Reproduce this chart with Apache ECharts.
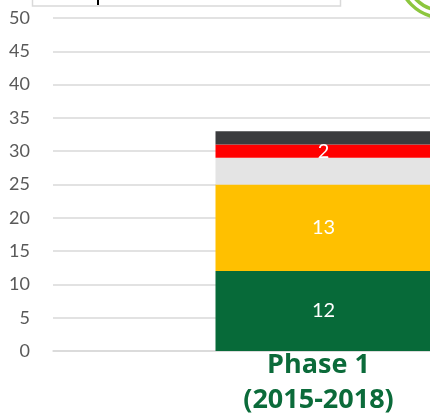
<!DOCTYPE html>
<html>
<head>
<meta charset="utf-8">
<script src="https://cdn.jsdelivr.net/npm/echarts@6/dist/echarts.min.js"></script>
<style>
  html, body { margin: 0; padding: 0; background: #ffffff; }
  #chart { width: 430px; height: 416px; }
</style>
</head>
<body>
<div id="chart"></div>
<script>
// Category and stacked segment values (bottom to top)
const categories = ['Phase 1\n(2015-2018)'];
const greenValues = [12];
const yellowValues = [13];
const greyValues = [4];
const redValues = [2];
const darkValues = [2];

const yMin = 0, yMax = 50, yStep = 5;

const chart = echarts.init(document.getElementById('chart'), null, { renderer: 'canvas' });

function segment(name, data, color, showLabel) {
  return {
    name: name,
    type: 'bar',
    stack: 'total',
    data: data,
    barWidth: 216,
    itemStyle: { color: color },
    label: {
      show: showLabel,
      position: 'inside',
      color: '#ffffff',
      fontFamily: 'Lato',
      fontSize: 20
    },
    emphasis: { disabled: true }
  };
}

chart.setOption({
  animation: false,
  grid: {
    left: 53, right: -164, top: 18, bottom: 65,
    containLabel: false,
    outerBoundsMode: 'none'
  },
  xAxis: {
    type: 'category',
    data: categories,
    axisLine: { show: true, lineStyle: { color: '#d9d9d9', width: 1.5 } },
    axisTick: { show: false },
    axisLabel: {
      color: '#0b6b3a',
      fontFamily: 'Open Sans',
      fontWeight: 'bold',
      fontSize: 27,
      lineHeight: 35,
      margin: -3,
      padding: [0, 10, 0, 0]
    }
  },
  yAxis: {
    type: 'value',
    min: yMin,
    max: yMax,
    interval: yStep,
    axisLine: { show: false },
    axisTick: { show: false },
    splitLine: { lineStyle: { color: '#d9d9d9', width: 1.5 } },
    axisLabel: {
      color: '#595959',
      fontFamily: 'Lato',
      fontSize: 18,
      margin: 23
    }
  },
  series: [
    segment('green', greenValues, '#076a39', true),
    segment('yellow', yellowValues, '#ffc000', true),
    segment('grey', greyValues, '#e4e4e4', false),
    segment('red', redValues, '#ff0000', true),
    segment('dark', darkValues, '#3b3c3e', false)
  ],
  graphic: [
    // partial legend frame along the top edge
    {
      type: 'rect',
      shape: { x: 32.5, y: -20, width: 308, height: 26 },
      style: { fill: '#ffffff', stroke: '#d9d9d9', lineWidth: 1.5 },
      z: 10
    },
    {
      type: 'rect',
      shape: { x: 97, y: 0, width: 2, height: 5 },
      style: { fill: '#000000' },
      z: 11
    },
    // logo rings in the top-right corner
    {
      type: 'circle',
      shape: { cx: 442.5, cy: -26.5, r: 44 },
      style: { fill: 'none', stroke: '#8cc63e', lineWidth: 3.5 },
      z: 10
    },
    {
      type: 'circle',
      shape: { cx: 442.5, cy: -26.5, r: 37 },
      style: { fill: 'none', stroke: '#8cc63e', lineWidth: 3.5 },
      z: 10
    }
  ]
});
</script>
</body>
</html>
